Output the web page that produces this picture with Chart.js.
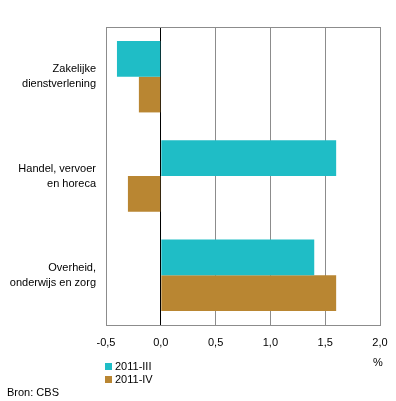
<!DOCTYPE html>
<html>
<head>
<meta charset="utf-8">
<script src="https://cdn.jsdelivr.net/npm/chart.js@4"></script>
<style>
  body { margin: 0; background: #fff; font-family: "Liberation Sans", Arial, sans-serif; }
  #wrap { position: relative; width: 396px; height: 401px; }
  .txt { position: absolute; font-size: 11px; color: #000; line-height: 13px; white-space: nowrap; }
  .sq { display: inline-block; width: 7px; height: 7px; margin-right: 3px; vertical-align: 0px; }
</style>
</head>
<body>
<div id="wrap">
  <canvas id="grafiek" width="396" height="401"></canvas>
  <div id="legenda" class="txt" style="left:105px; top:360px;"></div>
  <div class="txt" style="left:373px; top:356px;">%</div>
  <div class="txt" style="left:7px; top:386px;">Bron: CBS</div>
</div>
<script>
// sectoren en kwartaalcijfers (%)
const sectoren = [
  ['Zakelijke', 'dienstverlening'],
  ['Handel, vervoer', 'en horeca'],
  ['Overheid,', 'onderwijs en zorg']
];
const reeksen = ['2011-III', '2011-IV'];
const waarden2011III = [-0.4, 1.6, 1.4];
const waarden2011IV = [-0.2, -0.3, 1.6];
const kleuren = ['#1fbdc6', '#b98632'];

const legenda = document.getElementById('legenda');
legenda.innerHTML = reeksen.map((r, i) =>
  '<div><span class="sq" style="background:' + kleuren[i] + '"></span>' + r + '</div>'
).join('');

const ctx = document.getElementById('grafiek');
new Chart(ctx, {
  type: 'bar',
  data: {
    labels: sectoren,
    datasets: [
      { label: reeksen[0], data: waarden2011III, backgroundColor: kleuren[0] },
      { label: reeksen[1], data: waarden2011IV, backgroundColor: kleuren[1] }
    ]
  },
  options: {
    indexAxis: 'y',
    responsive: false,
    animation: false,
    datasets: { bar: { categoryPercentage: 0.72, barPercentage: 1.0 } },
    layout: { padding: { top: 27, bottom: 46, left: 0, right: 16 } },
    plugins: { legend: { display: false }, tooltip: { enabled: false } },
    scales: {
      x: {
        min: -0.5, max: 2.0,
        grid: {
          drawTicks: false,
          color: c => c.tick && c.tick.value === 0 ? '#000' : '#8c8c8c',
          lineWidth: 1
        },
        border: { display: true, color: '#8c8c8c' },
        ticks: {
          stepSize: 0.5,
          padding: 11,
          color: '#000',
          font: { family: '"Liberation Sans", Arial, sans-serif', size: 11 },
          callback: v => v.toFixed(1).replace('.', ',')
        },
        afterFit: s => { s.height = 30; s.paddingLeft = 0; s.paddingRight = 0; }
      },
      x2: {
        position: 'top',
        min: -0.5, max: 2.0,
        grid: { display: false },
        ticks: { display: false },
        border: { display: true, color: '#8c8c8c' },
        afterFit: s => { s.height = 0; s.paddingLeft = 0; s.paddingRight = 0; }
      },
      y: {
        grid: { display: false, drawTicks: false },
        border: { display: false },
        ticks: {
          padding: 10,
          color: '#000',
          font: { family: '"Liberation Sans", Arial, sans-serif', size: 11, lineHeight: 1.36 }
        },
        afterFit: s => { s.width = 106; }
      }
    }
  }
});
</script>
</body>
</html>
